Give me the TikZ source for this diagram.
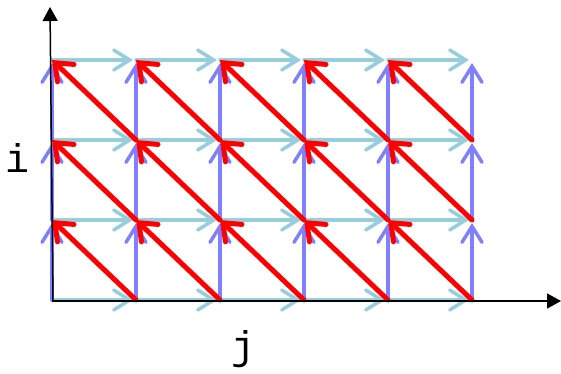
\documentclass[tikz,border=0pt]{standalone}
\usepackage{fontspec}
\newfontfamily\monofont{Liberation Mono}
\usetikzlibrary{arrows.meta}
\definecolor{hcol}{RGB}{150,206,222}
\definecolor{vcol}{RGB}{128,128,255}
\definecolor{dcol}{RGB}{255,0,0}
\tikzset{
  harrow/.style={draw=hcol, line width=3.5pt, line cap=round,
    -{Straight Barb[length=16pt,width=20pt,line cap=round]}, shorten >=3pt},
  varrow/.style={draw=vcol, line width=3.5pt, line cap=round,
    -{Straight Barb[length=16pt,width=20pt,line cap=round]}, shorten >=3pt},
  darrow/.style={draw=dcol, line width=5pt, line cap=round,
    -{Straight Barb[length=15pt,width=24pt,line cap=round]}},
  axis/.style={draw=black, line width=1.5pt, -{Triangle[length=14pt,width=15pt]}},
  lab/.style={font=\monofont\fontsize{40}{40}\selectfont, inner sep=0pt}
}
\begin{document}
\begin{tikzpicture}[x=1pt,y=-1pt]
\useasboundingbox (0,0) rectangle (561,373);
% grid points
\foreach \j in {0,...,5}{
  \foreach \i in {0,...,3}{
    \coordinate (p-\j-\i) at ({52+84*\j},{300-80*\i});
  }
}
% horizontal arrows
\foreach \j [evaluate=\j as \jn using int(\j+1)] in {0,...,4}{
  \foreach \i in {0,...,3}{
    \draw[harrow] (p-\j-\i) -- (p-\jn-\i);
  }
}
% vertical arrows
\foreach \j in {0,...,5}{
  \foreach \i [evaluate=\i as \in using int(\i+1)] in {0,...,2}{
    \draw[varrow] (p-\j-\i) -- (p-\j-\in);
  }
}
% diagonal arrows
\foreach \j [evaluate=\j as \jn using int(\j+1)] in {0,...,4}{
  \foreach \i [evaluate=\i as \in using int(\i+1)] in {0,...,2}{
    \draw[darrow] (p-\jn-\i) -- (p-\j-\in);
  }
}
% axes
\coordinate (o) at (52,301);
\coordinate (xend) at (561,301);
\coordinate (yend) at (50,7);
\draw[axis] (o) -- (xend);
\draw[axis] (53,301) -- (yend);
\node[lab] (li) at (18,158) {i};
\node[lab] (lj) at (243,349) {j};
\end{tikzpicture}
\end{document}
